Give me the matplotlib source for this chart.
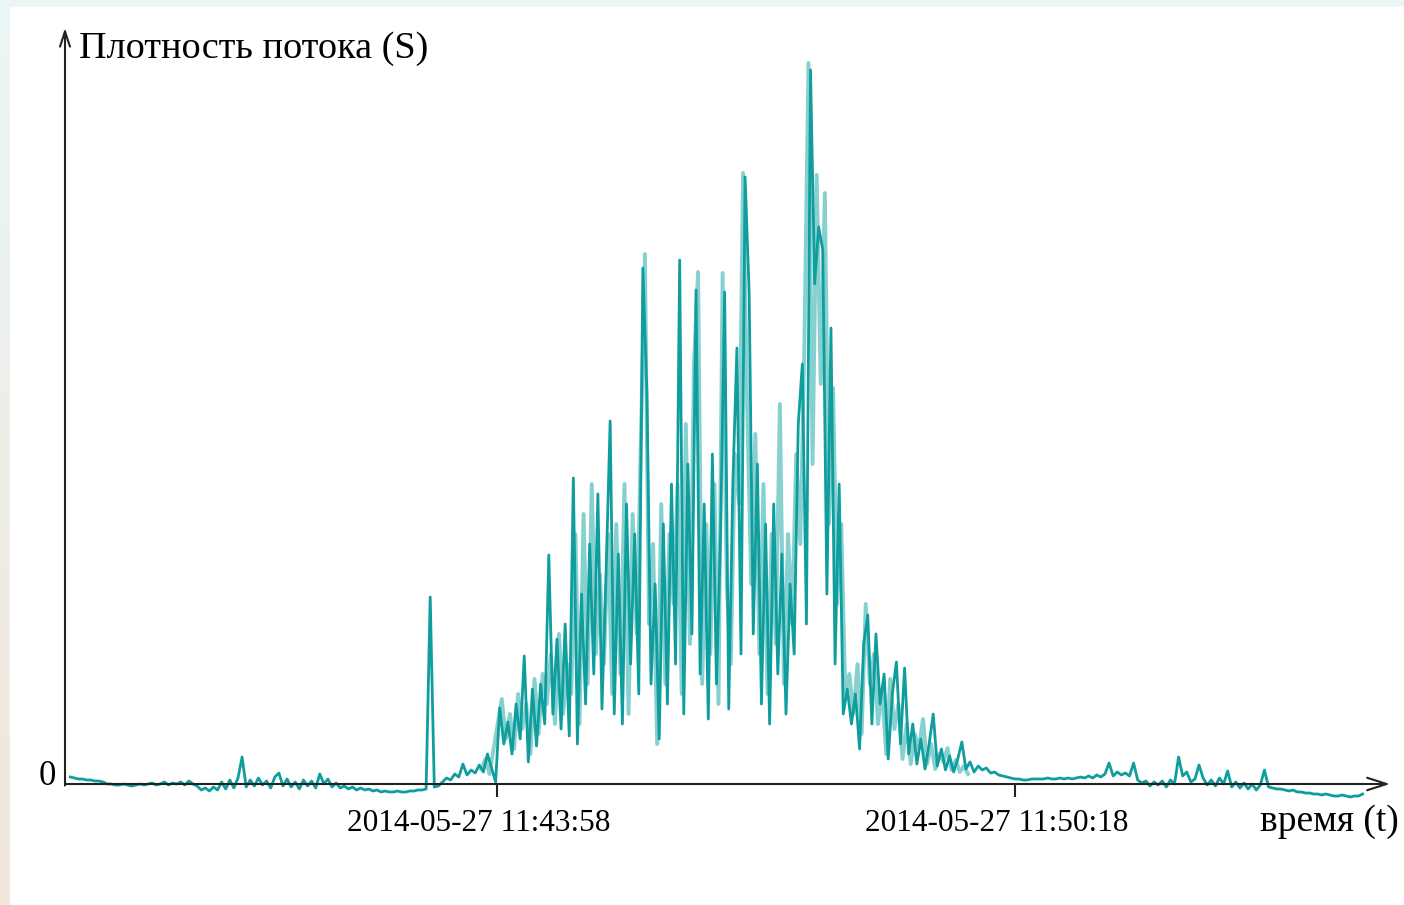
import numpy as np
import pandas as pd
import matplotlib
matplotlib.use("Agg")
import matplotlib.pyplot as plt
from matplotlib.patches import Rectangle
from matplotlib.transforms import ScaledTranslation
from matplotlib.colors import LinearSegmentedColormap

plt.rcParams['font.family'] = ['Liberation Serif', 'DejaVu Serif']

# flux density (arbitrary units), one sample every 3 s starting 11:38:45
quiet_start = [7, 6, 5, 5, 4, 4, 3, 3, 2, 0, 0, -1, -1, 0, -1, -2, -1, 0, -1, 0,
               1, -1, 0, 2, -1, 1, 0, 2, -1, 3, 0, -2, -6, -4, -7, -3, -6, 2, -5, 4,
               -4, 6, 27, -3, 4, -2, 6, -1, 3, -4, 7, 11, -2, 5, -3, 2, -5, 4, -2, 3,
               -4, 10, 0, 5, -3, 1, -4, -2, -5, -3, -6, -4, -6, -5, -7, -6, -8, -7, -8, -8,
               -7, -8, -8, -7, -7, -6, -6, -5]
burst = [187]
rise = [-3, -2, 2, 6, 4, 10, 7, 20, 9, 14, 11, 19, 12, 30, 16, 2]
core = [76, 40, 62, 30, 80, 45, 128, 22, 95, 38, 100, 60, 229, 70, 145, 55, 160, 48, 306, 40,
        190, 80, 240, 110, 290, 75, 210, 363, 70, 230, 60, 280, 120, 250, 90, 516, 390, 100, 200, 45,
        260, 80, 300, 120, 524, 70, 320, 150, 494, 110, 280, 65, 330, 100, 250, 492, 75, 300, 436, 130,
        607, 490, 150, 320, 80, 260, 60, 280, 110, 230, 70, 200, 130, 360, 420, 160, 714, 500, 557, 534,
        190, 456, 120, 300, 70, 95]
decay = [60, 90, 35, 140, 169, 60, 150, 80, 110, 25, 90, 122, 40, 116, 30, 60, 20, 45, 15, 40,
         70, 18, 35, 14, 28, 12, 25, 42, 15, 22, 12, 18, 14, 16, 11, 12, 9, 8, 7, 6,
         5, 5, 4, 4, 5]
tail = [5, 5, 5, 6, 5, 5, 6, 5, 6, 5, 6, 7, 6, 8, 6, 9, 7, 10, 21, 8,
        12, 9, 11, 8, 21, 4, 1, 3, -2, 2, -1, 3, -3, 4, 0, 27, 8, 12, 2, 5,
        19, 6, -1, 4, -2, 6, 0, 13, -3, 2, -4, 1, -5, 0, -6, -1, 14, -3, -4, -5,
        -5, -6, -7, -6, -8, -8, -9, -9, -10, -10, -11, -10, -11, -12, -12, -11, -12, -13, -12, -12,
        -10]

# second (lighter) trace over the active part, offset by 1.5 s
light_core = [15, 25, 10, 35, 60, 85, 45, 70, 35, 90, 55, 80, 30, 105, 50, 110, 80, 130, 60, 150,
              70, 120, 90, 250, 60, 270, 100, 300, 130, 210, 120, 250, 90, 260, 110, 300, 70, 270, 150, 340,
              530, 160, 240, 40, 280, 100, 250, 180, 300, 90, 360, 140, 420, 512, 100, 260, 130, 300, 80, 511,
              200, 120, 330, 280, 611, 380, 200, 350, 130, 300, 90, 250, 140, 380, 100, 250, 160, 330, 240, 440,
              721, 320, 609, 400, 591, 260, 396, 180, 260, 90, 110, 70, 120, 50, 180, 100]
light_decay = [130, 60, 95, 30, 105, 55, 80, 25, 60, 20, 50, 35, 65, 20, 40, 15, 30, 22, 36, 14,
               24, 12, 18, 10]

dark = np.array(quiet_start + burst + rise + core + decay + tail)
t_dark = pd.date_range("2014-05-27 11:38:45", periods=len(dark), freq="3s")
light = np.array(light_core + light_decay)
t_light = pd.date_range("2014-05-27 11:43:46.5", periods=len(light), freq="3s")

tick_times = [pd.Timestamp("2014-05-27 11:43:58"), pd.Timestamp("2014-05-27 11:50:18")]
tick_labels = ["2014-05-27 11:43:58", "2014-05-27 11:50:18"]

W, H = 1404, 905
fig = plt.figure(figsize=(W / 100, H / 100), dpi=100)

# page background: faint frame with white card
bg = fig.add_axes([0, 0, 1, 1], zorder=-10)
grad = np.linspace(0, 1, 256)[:, None]
bgcmap = LinearSegmentedColormap.from_list('', ['#eaf6f6', '#f1e6da'])
bg.imshow(grad, aspect='auto', cmap=bgcmap, extent=[0, 1, 0, 1], origin='upper')
bg.add_patch(Rectangle((10 / W, 0), 1, 1 - 7 / H, color='white', transform=bg.transAxes))
bg.set_xlim(0, 1)
bg.set_ylim(0, 1)
bg.axis('off')

x0, x1, y0, y1 = 65, 1390, 784, 28
ax = fig.add_axes([x0 / W, (H - y0) / H, (x1 - x0) / W, (y0 - y1) / H])
ax.patch.set_alpha(0)

ax.plot(t_light, light, color='#86d0d0', lw=2.8, clip_on=False, zorder=2)
ax.plot(t_dark, dark, color='#0f9d9d', lw=2.0, clip_on=False, zorder=3)

secs_per_px = 380 / (1015 - 497)
left = tick_times[0] - pd.Timedelta(seconds=(497 - x0) * secs_per_px)
right = tick_times[0] + pd.Timedelta(seconds=(x1 - 497) * secs_per_px)
ax.set_xlim(left, right)
ax.set_ylim(0, y0 - y1)

for s in ax.spines.values():
    s.set_visible(False)
ax.set_yticks([])
ax.set_xticks(tick_times)
ax.set_xticklabels(tick_labels, fontsize=22.5)
ax.tick_params(axis='x', length=9, width=1.5, color='#222222', pad=9, direction='out')
shift = ScaledTranslation(-18 / 100, 0, fig.dpi_scale_trans)
for lab in ax.get_xticklabels():
    lab.set_transform(lab.get_transform() + shift)

ax.annotate('', xy=(1, 0), xytext=(0, 0), xycoords='axes fraction',
            arrowprops=dict(arrowstyle='->, head_length=1.4, head_width=0.45', lw=1.5,
                            color='#222222', shrinkA=0, shrinkB=0), zorder=5)
ax.annotate('', xy=(0, 1), xytext=(0, -0.002), xycoords='axes fraction',
            arrowprops=dict(arrowstyle='->, head_length=1.1, head_width=0.36', lw=1.5,
                            color='#222222', shrinkA=0, shrinkB=0), zorder=5)

fig.text(79 / W, 1 - 49 / H, 'Плотность потока (S)', fontsize=27.5, ha='left', va='center')
fig.text(56 / W, 1 - 776 / H, '0', fontsize=25, ha='right', va='center')
fig.text(1399 / W, 1 - 822 / H, 'время (t)', fontsize=27, ha='right', va='center')

fig.savefig('out.png', dpi=100)
